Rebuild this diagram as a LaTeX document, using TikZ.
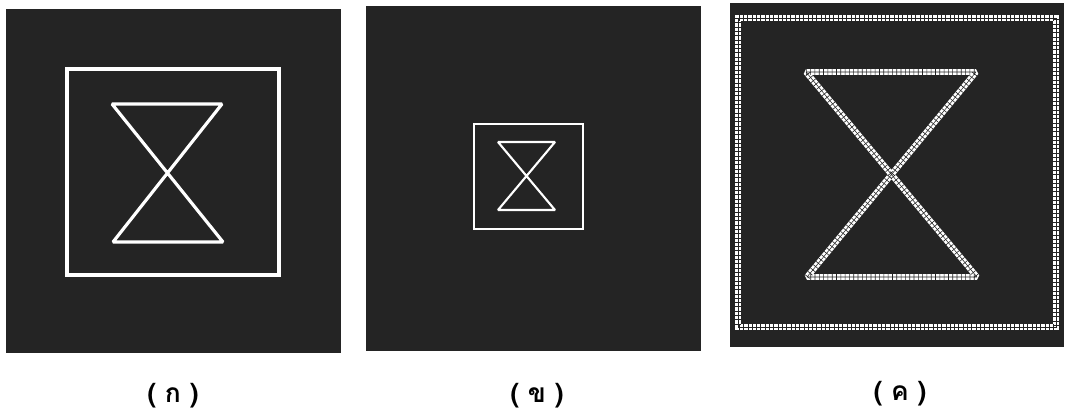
\documentclass[tikz,border=0pt]{standalone}
\usepackage{fontspec}
\newfontfamily\thaifont[Script=Thai]{Loma}
\usetikzlibrary{positioning}
\definecolor{panelbg}{RGB}{36,36,36}

\begin{document}
\begin{tikzpicture}[
  x=0.02cm,y=-0.02cm,
  panel/.style={fill=panelbg, draw=none},
  thick line/.style={draw=white, line width=1.8pt, line join=miter},
  thin line/.style={draw=white, line width=1.2pt, line join=miter},
  glass/.style={line join=bevel},
  hatch/.style={draw=white, line width=3.4pt, line join=miter},
  hatchgrid/.style={draw=panelbg, line width=3.4pt, dash pattern=on 0.35pt off 2.1pt},
  hatchmid/.style={draw=panelbg, line width=0.3pt},
  caption/.style={font=\thaifont\bfseries\fontsize{15}{17}\selectfont, inner sep=1pt}
]

\useasboundingbox[fill=white] (0,0) rectangle (1068,414);

% panels
\fill[panel] (6,9) rectangle (341,353);
\fill[panel] (366,6) rectangle (701,351);
\fill[panel] (730,3) rectangle (1064,347);

% (a) large frame
\draw[thick line] (67,69) rectangle (279,275);
\draw[thick line, glass] (112,104) -- (222,104) -- (113,242) -- (223,242) -- cycle;

% (b) scaled down
\draw[thin line] (474,124) rectangle (583,229);
\draw[thin line, glass] (498,142) -- (555,142) -- (498,210) -- (555,210) -- cycle;

% (c) enlarged, pixel pattern
\foreach \s in {hatch, hatchgrid, hatchmid} {
  \draw[\s] (738,18) rectangle (1056,327);
  \draw[\s, glass] (806,72) -- (976,72) -- (807,277) -- (977,277) -- cycle;
}

% captions
\node[caption] (capa) at (173,396) {( ก )};
\node[caption] (capb) at (537,396) {( ข )};
\node[caption] (capc) at (900,394) {( ค )};

\end{tikzpicture}
\end{document}
